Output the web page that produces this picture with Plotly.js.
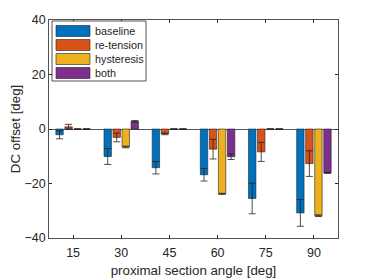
<!DOCTYPE html>
<html><head><meta charset="utf-8">
<script src="https://cdn.plot.ly/plotly-3.0.1.min.js"></script>
<style>html,body{margin:0;padding:0;background:#fff;}#c{width:374px;height:278px;}</style>
</head><body><div id="c"></div>
<script>
var categories = ['15','30','45','60','75','90'];
var seriesNames = ['baseline','re-tension','hysteresis','both'];
var baseline = [-2.1, -10.1, -14.2, -16.8, -25.5, -30.8];
var baselineErr = [1.5, 2.9, 2.3, 2.3, 5.6, 4.9];
var retension = [0.8, -3.1, -1.8, -7.4, -8.4, -12.7];
var retensionErr = [0.9, 1.6, 0.3, 3.6, 3.5, 4.7];
var hysteresis = [0, -6.6, 0, -23.8, 0, -31.8];
var hysteresisErr = [0, 0.3, 0, 0.2, 0, 0.3];
var both = [0, 2.8, 0, -10.2, 0, -16.1];
var bothErr = [0, 0.3, 0, 1.0, 0, 0.2];
var colors = ['#0072BD','#D95319','#EDB120','#7E2F8E'];

var vals = [baseline, retension, hysteresis, both];
var errs = [baselineErr, retensionErr, hysteresisErr, bothErr];
var font = 'Liberation Sans, Arial, Helvetica, sans-serif';
var traces = vals.map(function(v,i){
  return {type:'bar', x:categories, y:v, name:seriesNames[i],
    marker:{color:colors[i], line:{color:'#222', width:0.6}},
    error_y:{type:'data', array:errs[i], visible:true, color:'#222', thickness:0.8, width:3.5},
    showlegend:false};
});

var W=374,H=278,L=49,R=36,T=20,B=40;
var pw=W-L-R, ph=H-T-B;
function px(x){return (x-L)/pw;}
function py(y){return (H-B-y)/ph;}
var shapes=[{type:'rect',xref:'paper',yref:'paper',x0:px(52),x1:px(146),y0:py(81),y1:py(21),
  line:{color:'#262626',width:0.8},fillcolor:'#fff',layer:'above'}];
var annotations=[];
var rows=[31,45,59,73];
seriesNames.forEach(function(n,i){
  shapes.push({type:'rect',xref:'paper',yref:'paper',x0:px(56),x1:px(90),y0:py(rows[i]+5.5),y1:py(rows[i]-5.5),
    line:{color:'#222',width:0.6},fillcolor:colors[i],layer:'above'});
  annotations.push({xref:'paper',yref:'paper',x:px(93),y:py(rows[i]),xanchor:'left',yanchor:'middle',
    text:n,showarrow:false,font:{family:font,size:10.8,color:'#262626'}});
});

var layout={width:W,height:H,margin:{l:L,r:R,t:T,b:B,pad:0},
  paper_bgcolor:'#fff',plot_bgcolor:'#fff',
  barmode:'group',bargap:0.25,bargroupgap:0.18,
  font:{family:font,size:13,color:'#262626'},
  xaxis:{type:'category',range:[-0.5,5.5],showline:true,mirror:'ticks',linecolor:'#262626',linewidth:0.8,
    ticks:'inside',ticklen:3,tickcolor:'#262626',showgrid:false,ticklabelstandoff:3,
    tickfont:{size:12.5},title:{text:'proximal section angle [deg]',font:{size:13.3},standoff:6}},
  yaxis:{range:[-40,40],tickvals:[-40,-20,0,20,40],showline:true,mirror:'ticks',linecolor:'#262626',linewidth:0.8,
    ticks:'inside',ticklen:3,tickcolor:'#262626',showgrid:false,
    zeroline:true,zerolinecolor:'#555',zerolinewidth:1,
    tickfont:{size:12.5},title:{text:'DC offset [deg]',font:{size:13.3},standoff:0}},
  shapes:shapes,annotations:annotations,showlegend:false};
Plotly.newPlot('c',traces,layout,{staticPlot:true,displayModeBar:false});
</script></body></html>
